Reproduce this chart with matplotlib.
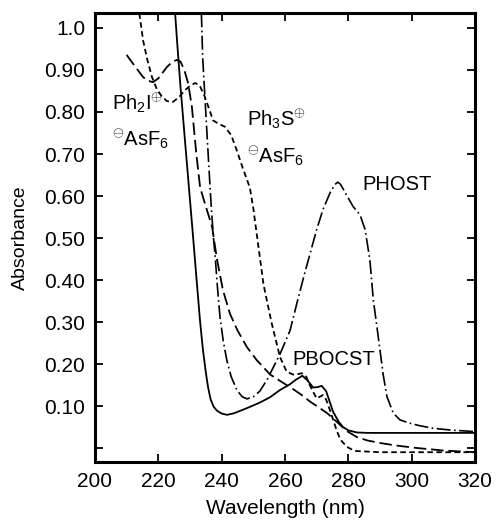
import numpy as np
import matplotlib
matplotlib.use("Agg")
import matplotlib.pyplot as plt
from matplotlib.ticker import FixedLocator, FixedFormatter

plt.rcParams['font.family'] = ['Liberation Sans', 'DejaVu Sans']
plt.rcParams['mathtext.fontset'] = 'custom'
plt.rcParams['mathtext.rm'] = 'Liberation Sans'
plt.rcParams['mathtext.it'] = 'Liberation Sans'
plt.rcParams['lines.scale_dashes'] = False

# PBOCST (solid)
pbocst_wl = [225.3, 226, 227, 228.4, 230, 231, 232.2, 233.2, 234.1, 235, 235.7, 236.5,
             237.5, 238.5, 240, 241.7, 244, 248, 252, 255.3, 258.4, 261.6, 263.5, 265.5,
             267.2, 268.9, 270.3, 271.6, 273, 275.2, 277, 278.3, 280, 282.7, 286, 290, 300, 320]
pbocst_abs = [1.035, 0.96, 0.86, 0.733, 0.59, 0.50, 0.39, 0.30, 0.233, 0.18, 0.145, 0.116,
              0.098, 0.089, 0.082, 0.079, 0.083, 0.095, 0.108, 0.121, 0.138, 0.152, 0.163, 0.172,
              0.16, 0.144, 0.145, 0.148, 0.135, 0.086, 0.062, 0.05, 0.042, 0.037, 0.036, 0.036, 0.036, 0.036]

# Ph2I+ AsF6- (long dash)
ph2i_wl = [210, 212, 214, 215.2, 216.5, 218.3, 220, 222.7, 224.5, 225.9, 227, 228.2, 229.4,
           230.6, 232, 233.2, 235, 237, 238.5, 240.4, 242.6, 245, 248, 251, 255.3, 258.4,
           263, 265.5, 268, 270, 273.3, 276.4, 279.6, 282.7, 286, 290, 295, 301.7, 310, 320]
ph2i_abs = [0.936, 0.915, 0.895, 0.883, 0.875, 0.871, 0.88, 0.907, 0.92, 0.924, 0.92, 0.90, 0.869,
            0.812, 0.70, 0.62, 0.575, 0.526, 0.45, 0.376, 0.32, 0.28, 0.24, 0.21, 0.175, 0.16,
            0.138, 0.125, 0.11, 0.1, 0.083, 0.062, 0.04, 0.026, 0.018, 0.012, 0.006, 0.0, -0.006, -0.01]

# Ph3S+ AsF6- (short dash)
ph3s_wl = [214, 215.2, 216.5, 218, 219.5, 221, 222.7, 224.6, 226.5, 228.4, 230, 231.6, 233,
           234.7, 236, 237.3, 239, 241, 243, 244.7, 246.5, 248.9, 250, 251.1, 253.2, 255.8,
           258.4, 260.5, 262.5, 264, 265.3, 266.7, 267.8, 268.8, 270, 271, 272, 273, 274.2,
           275.3, 276.4, 277.5, 279.5, 282, 290, 300, 320]
ph3s_abs = [1.035, 0.97, 0.925, 0.883, 0.855, 0.838, 0.826, 0.824, 0.835, 0.852, 0.862, 0.869, 0.864,
            0.836, 0.808, 0.78, 0.772, 0.765, 0.745, 0.71, 0.67, 0.62, 0.57, 0.508, 0.39, 0.297,
            0.217, 0.182, 0.175, 0.176, 0.178, 0.17, 0.15, 0.135, 0.118, 0.122, 0.126, 0.115, 0.09,
            0.065, 0.04, 0.02, 0.003, -0.007, -0.01, -0.01, -0.01]

# PHOST (dash-dot)
phost_wl = [233.6, 234.0, 234.6, 235.5, 236.5, 237.3, 237.9, 238.7, 239.5, 240.5, 241.6, 243,
            244.8, 246.5, 248, 250, 252, 254.3, 256.5, 258.5, 261.6, 264, 266, 268, 270, 272,
            274.2, 275.7, 276.7, 277.5, 278.5, 279.6, 281.5, 283.7, 285.3, 286.8, 287.9, 289,
            290, 291, 292.2, 294.2, 296.3, 299, 302, 306.7, 312, 320]
phost_abs = [1.035, 0.93, 0.85, 0.73, 0.6, 0.51, 0.46, 0.38, 0.31, 0.255, 0.21, 0.17,
             0.138, 0.122, 0.117, 0.122, 0.135, 0.162, 0.195, 0.225, 0.28, 0.352, 0.41, 0.465, 0.52, 0.568,
             0.607, 0.627, 0.633, 0.628, 0.615, 0.60, 0.575, 0.555, 0.52, 0.448, 0.352, 0.29,
             0.233, 0.175, 0.122, 0.083, 0.067, 0.06, 0.054, 0.047, 0.043, 0.039]

y_ticks = [0.0, 0.1, 0.2, 0.3, 0.4, 0.5, 0.6, 0.7, 0.8, 0.9, 1.0]
y_labels = ['', '0.10', '0.20', '0.30', '0.40', '0.50', '0.60', '0.70', '0.80', '0.90', '1.0']
x_ticks = [200, 220, 240, 260, 280, 300, 320]

fig = plt.figure(figsize=(4.97, 5.2), dpi=100)
ax = fig.add_axes([95 / 497, 1 - 462 / 520, 380 / 497, 449 / 520])

ax.plot(pbocst_wl, pbocst_abs, color='black', lw=1.3, ls='-')
ax.plot(ph2i_wl, ph2i_abs, color='black', lw=1.3, ls=(0, (9, 3.5)))
ax.plot(ph3s_wl, ph3s_abs, color='black', lw=1.3, ls=(0, (4, 2.5)))
ax.plot(phost_wl, phost_abs, color='black', lw=1.2, ls=(0, (10, 2.5, 1.2, 2.5)))

ax.set_xlim(200, 320)
ax.set_ylim(-0.0333, 1.0357)
ax.xaxis.set_major_locator(FixedLocator(x_ticks))
ax.yaxis.set_major_locator(FixedLocator(y_ticks))
ax.yaxis.set_major_formatter(FixedFormatter(y_labels))
ax.tick_params(direction='in', top=True, right=True, length=6, width=1.3,
               labelsize=15, pad=7)
for sp in ax.spines.values():
    sp.set_linewidth(2.2)

ax.set_xlabel('Wavelength (nm)', fontsize=15)
ax.set_ylabel('Absorbance', fontsize=14)
ax.xaxis.set_label_coords(0.5, -0.083)
ax.yaxis.set_label_coords(-0.175, 0.5)

fs = 14.5
ax.text(205.4, 0.805, r'Ph$_2$I$^{\oplus}$', fontsize=fs)
ax.text(205.4, 0.717, r'$^{\ominus}$AsF$_6$', fontsize=fs)
ax.text(248, 0.769, r'Ph$_3$S$^{\oplus}$', fontsize=fs)
ax.text(248, 0.678, r'$^{\ominus}$AsF$_6$', fontsize=fs)
ax.text(284.3, 0.614, 'PHOST', fontsize=fs)
ax.text(262.2, 0.198, 'PBOCST', fontsize=fs)

fig.savefig('out.png', dpi=100)
